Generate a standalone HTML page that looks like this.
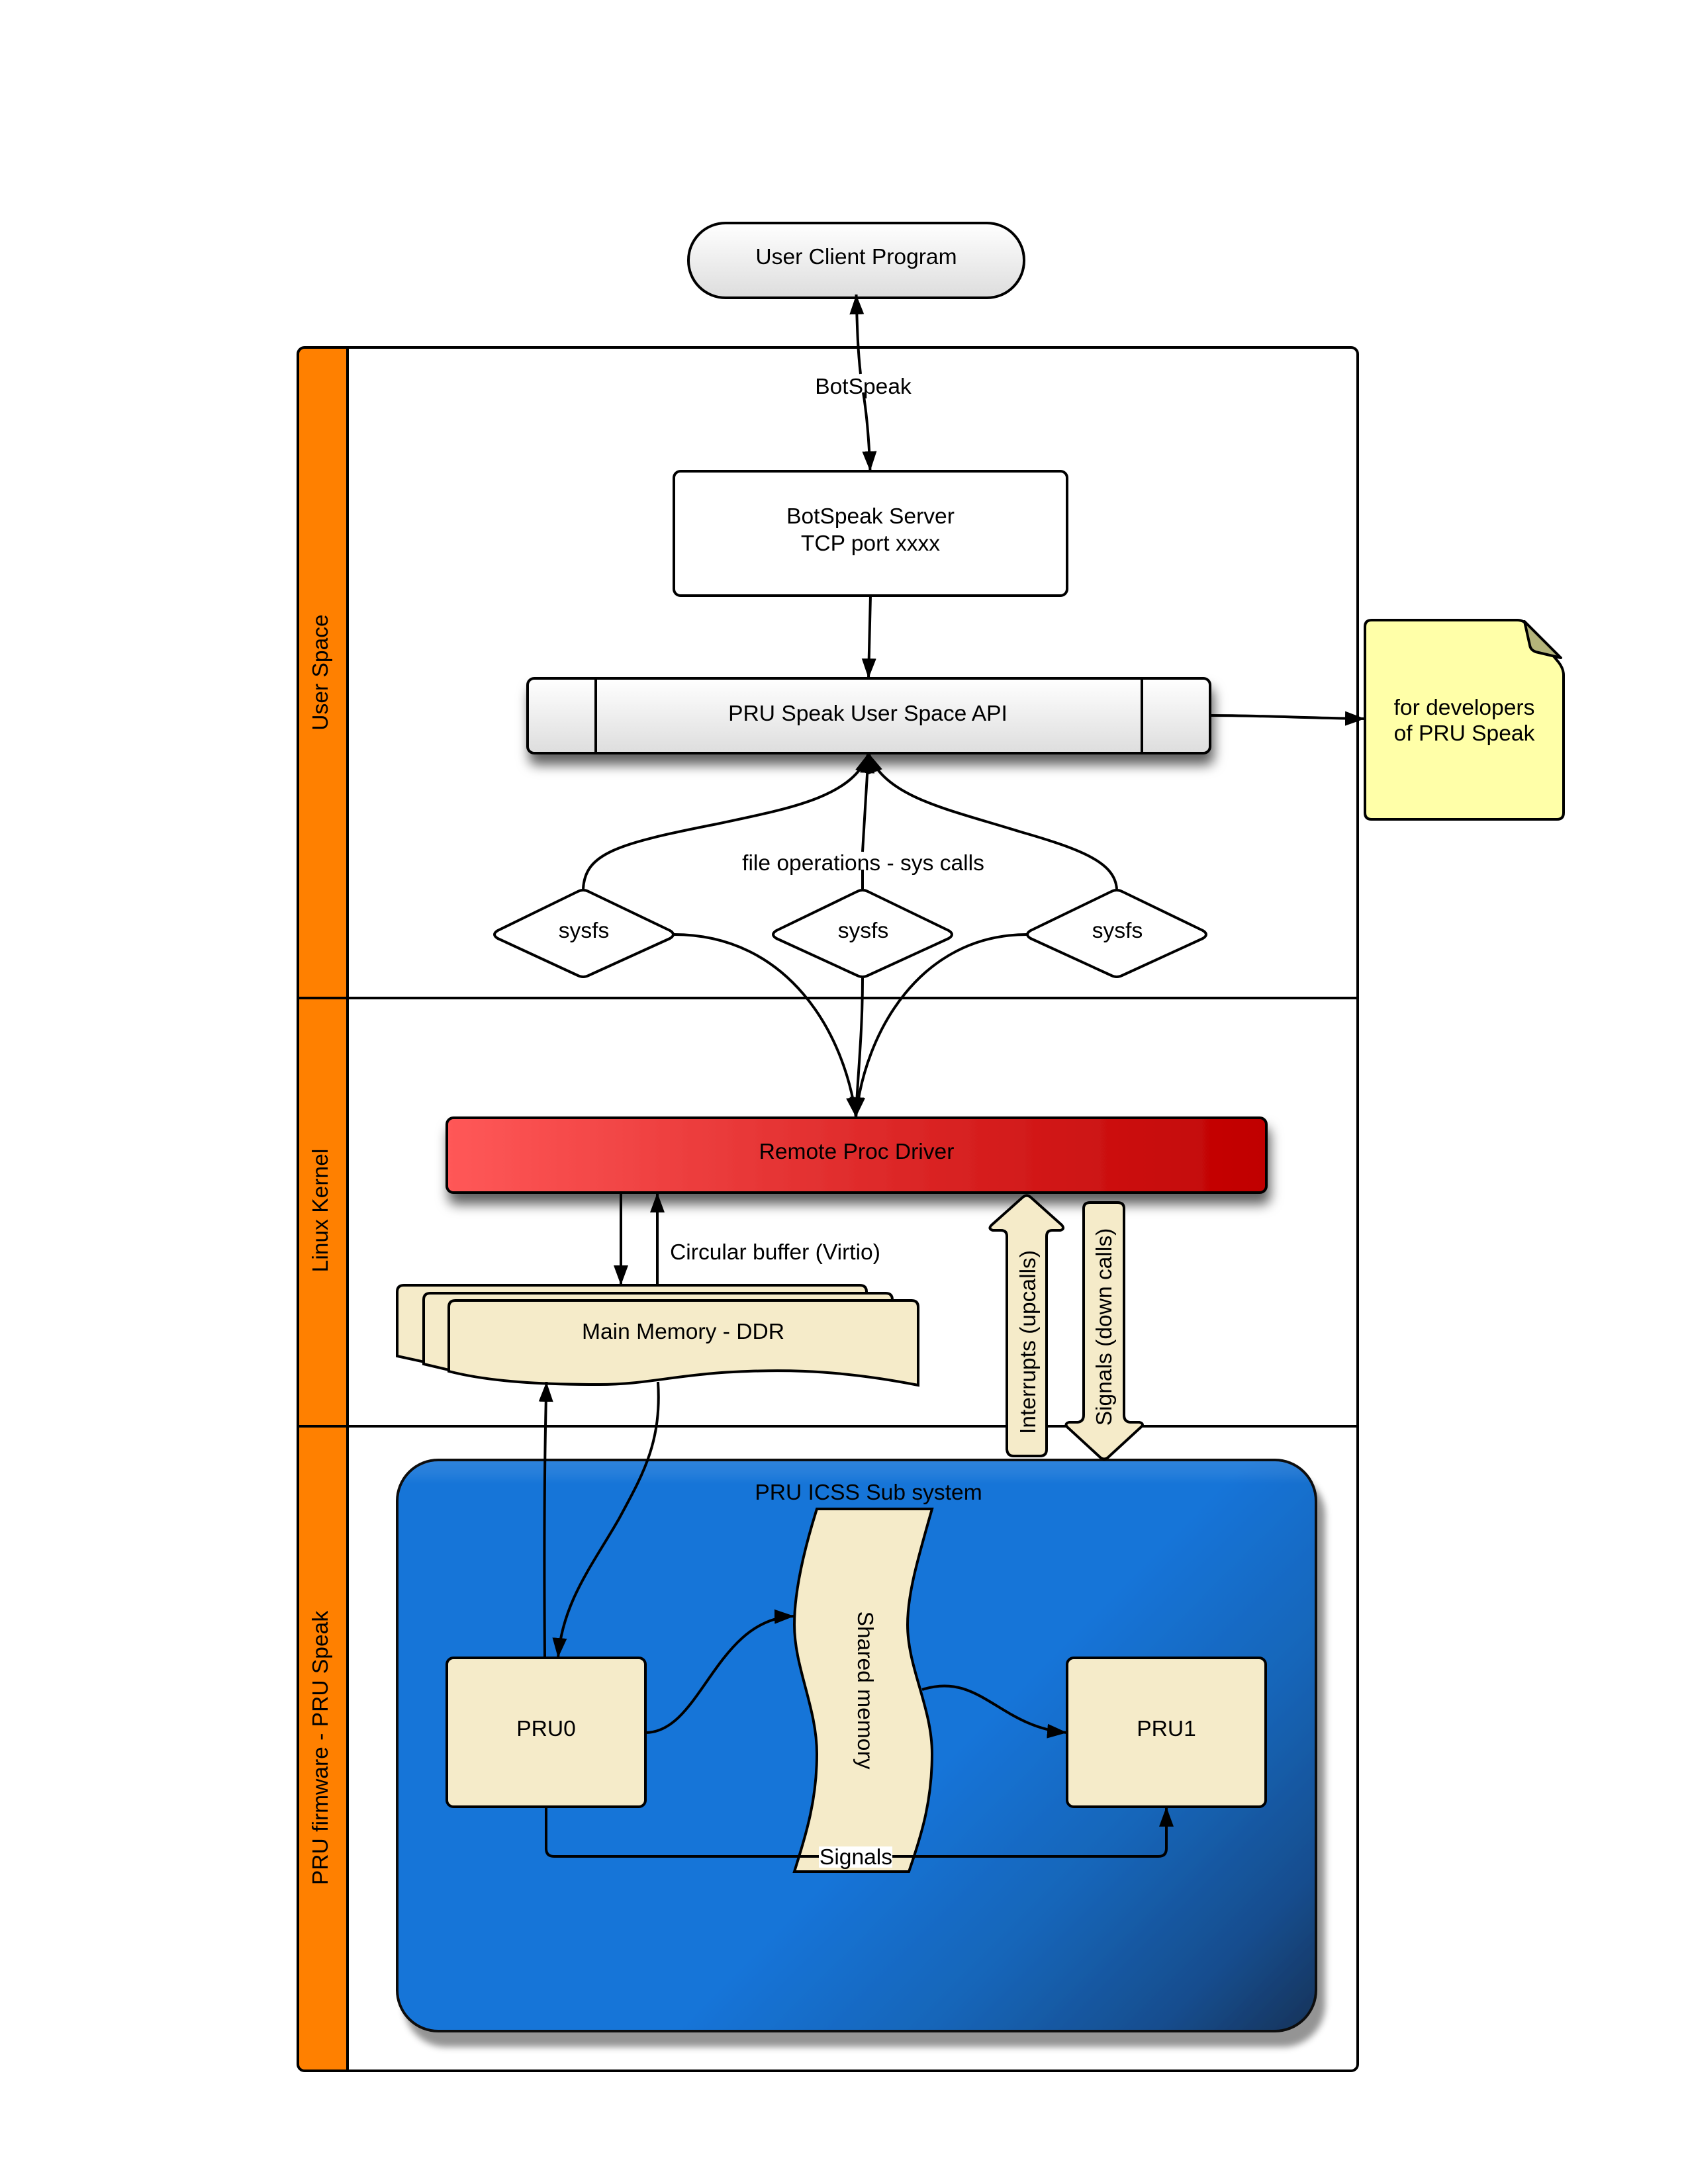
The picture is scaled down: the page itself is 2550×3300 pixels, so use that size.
<!DOCTYPE html>
<html>
<head>
<meta charset="utf-8">
<style>
html,body{margin:0;padding:0;background:#fff;}
svg{display:block;}
text{font-family:"Liberation Sans",sans-serif;font-size:33.6px;fill:#000;text-anchor:middle;}
</style>
</head>
<body>
<svg xmlns="http://www.w3.org/2000/svg" width="2550" height="3300" viewBox="0 0 2550 3300">
<defs>
<linearGradient id="gray" x1="0" y1="0" x2="0" y2="1"><stop offset="0" stop-color="#ffffff"/><stop offset="1" stop-color="#dddddd"/></linearGradient>
<linearGradient id="red" x1="0" y1="0" x2="1" y2="0"><stop offset="0" stop-color="#ff5858"/><stop offset="1" stop-color="#c00000"/></linearGradient>
<linearGradient id="blue" gradientUnits="userSpaceOnUse" x1="1937" y1="2155" x2="2419" y2="2637"><stop offset="0" stop-color="#1874d8"/><stop offset=".4" stop-color="#1665b8"/><stop offset=".75" stop-color="#154d8e"/><stop offset="1" stop-color="#123258"/></linearGradient>
<linearGradient id="top" x1="0" y1="0" x2="0" y2="1"><stop offset="0" stop-color="#fff" stop-opacity=".1"/><stop offset=".02" stop-color="#fff" stop-opacity=".07"/><stop offset=".04" stop-color="#fff" stop-opacity="0"/></linearGradient>
<filter id="sh" x="-10%" y="-50%" width="120%" height="220%"><feDropShadow dx="4" dy="16" stdDeviation="9" flood-color="#000" flood-opacity=".62"/></filter>
<filter id="sh2" x="-5%" y="-5%" width="110%" height="110%"><feDropShadow dx="12" dy="22" stdDeviation="5" flood-color="#000" flood-opacity=".42"/></filter>
<marker id="a" markerUnits="userSpaceOnUse" markerWidth="34" markerHeight="26" refX="30" refY="12" orient="auto"><path d="M0 1L30 12L0 23Z" fill="#000"/></marker>
</defs>

<!-- swimlanes -->
<rect x="450" y="525" width="1601" height="2604" rx="10" fill="#fff"/>
<path d="M450 1508V535a10 10 0 0 1 10-10H525V1508ZM450 1508H525V2155H450ZM450 2155H525V3129H460a10 10 0 0 1-10-10Z" fill="#ff8000"/>
<g fill="none" stroke="#000" stroke-width="4">
<rect x="450" y="525" width="1601" height="2604" rx="10"/>
<path d="M525 525V3129M450 1508H2051M450 2155H2051"/>
</g>
<text transform="translate(495 1016) rotate(-90)">User Space</text>
<text transform="translate(495 1829) rotate(-90)">Linux Kernel</text>
<text transform="translate(495 2641) rotate(-90)">PRU firmware - PRU Speak</text>

<!-- pill -->
<rect x="1040" y="337" width="507" height="113" rx="56" fill="url(#gray)" stroke="#000" stroke-width="4"/>
<text x="1293.5" y="399">User Client Program</text>

<!-- server -->
<rect x="1018" y="712" width="594" height="188" rx="10" fill="#fff" stroke="#000" stroke-width="4"/>
<text x="1315" y="791">BotSpeak Server</text>
<text x="1315" y="832">TCP port xxxx</text>

<!-- API -->
<rect x="797" y="1025" width="1031" height="113" rx="10" fill="url(#gray)" stroke="#000" stroke-width="4" filter="url(#sh)"/>
<path d="M900 1025V1138M1725 1025V1138" stroke="#000" stroke-width="4"/>
<text x="1311" y="1089">PRU Speak User Space API</text>

<!-- note -->
<path d="M2072 937H2292Q2302 937 2308 945L2354 1000Q2362 1010 2362 1020V1228Q2362 1238 2352 1238H2072Q2062 1238 2062 1228V947Q2062 937 2072 937Z" fill="#ffffa8" stroke="#000" stroke-width="4"/>
<path d="M2303 939L2358 994L2320 985Q2312 982 2311 975Z" fill="#b4b47a" stroke="#000" stroke-width="4" stroke-linejoin="round"/>
<text x="2212" y="1080">for developers</text>
<text x="2212" y="1119">of PRU Speak</text>

<!-- diamonds -->
<g fill="#fff" stroke="#000" stroke-width="4" stroke-linejoin="round">
<path d="M873 1347Q881 1343 889 1347L1012 1406Q1022 1412 1012 1418L889 1474Q881 1478 873 1474L752 1418Q742 1412 752 1406Z"/>
<path d="M1295 1347Q1303 1343 1311 1347L1433 1406Q1443 1412 1433 1418L1311 1474Q1303 1478 1295 1474L1173 1418Q1163 1412 1173 1406Z"/>
<path d="M1679 1347Q1687 1343 1695 1347L1817 1406Q1827 1412 1817 1418L1695 1474Q1687 1478 1679 1474L1557 1418Q1547 1412 1557 1406Z"/>
</g>
<text x="882" y="1417">sysfs</text>
<text x="1304" y="1417">sysfs</text>
<text x="1688" y="1417">sysfs</text>

<!-- driver -->
<rect x="675" y="1689" width="1238" height="113" rx="10" fill="url(#red)" stroke="#000" stroke-width="4" filter="url(#sh)"/>
<text x="1294" y="1751">Remote Proc Driver</text>

<!-- memory stack -->
<g fill="#f5ebc9" stroke="#000" stroke-width="4">
<path d="M600 2049V1952Q600 1942 610 1942H1299Q1309 1942 1309 1952V2000L678 2066Z"/>
<path d="M640 2061V1964Q640 1954 650 1954H1338Q1348 1954 1348 1964V2000L678 2070Z"/>
<path d="M678 2072V1975Q678 1965 688 1965H1377Q1387 1965 1387 1975V2093C1250 2066 1160 2070 1090 2074C1010 2080 970 2092 905 2092C820 2092 740 2088 678 2072Z"/>
</g>
<text x="1032" y="2023">Main Memory - DDR</text>

<!-- blue box -->
<rect x="600" y="2206" width="1388" height="863" rx="62" fill="url(#blue)" stroke="#111" stroke-width="4" filter="url(#sh2)"/>
<rect x="602" y="2208" width="1384" height="859" rx="60" fill="url(#top)"/>
<text x="1312" y="2266">PRU ICSS Sub system</text>

<!-- block arrows -->
<path d="M1521 2190V1868Q1521 1859 1512 1859H1500Q1492 1857 1498 1851L1545 1809Q1551 1804 1557 1809L1604 1851Q1609 1857 1602 1859H1590Q1581 1859 1581 1868V2190Q1581 2200 1571 2200H1531Q1522 2200 1521 2190Z" fill="#f5ebc9" stroke="#000" stroke-width="4" stroke-linejoin="round"/>
<path d="M1637 1826Q1637 1817 1647 1817H1688Q1698 1817 1698 1826V2138Q1698 2148 1707 2149H1721Q1729 2151 1724 2156L1674 2202Q1668 2207 1662 2202L1612 2156Q1608 2151 1615 2149H1628Q1637 2148 1637 2138Z" fill="#f5ebc9" stroke="#000" stroke-width="4" stroke-linejoin="round"/>
<text transform="translate(1552 2028) rotate(-90)" dy="12">Interrupts (upcalls)</text>
<text transform="translate(1667 2005) rotate(-90)" dy="12">Signals (down calls)</text>

<!-- shared memory -->
<path d="M1234 2280H1408C1385 2360 1371 2410 1371 2455C1371 2520 1408 2580 1408 2650C1408 2720 1393 2770 1373 2828H1200C1218 2770 1234 2720 1234 2650C1234 2580 1200 2520 1200 2455C1200 2410 1212 2350 1234 2280Z" fill="#f5ebc9" stroke="#000" stroke-width="4"/>
<text transform="translate(1308 2554) rotate(90)" dy="-12" y="24">Shared memory</text>

<!-- PRU boxes -->
<rect x="675" y="2505" width="300" height="225" rx="10" fill="#f5ebc9" stroke="#000" stroke-width="4"/>
<rect x="1612" y="2505" width="300" height="225" rx="10" fill="#f5ebc9" stroke="#000" stroke-width="4"/>
<text x="825" y="2623">PRU0</text>
<text x="1762" y="2623">PRU1</text>

<!-- connectors -->
<g fill="none" stroke="#000" stroke-width="4">
<path d="M1300 565C1296 530 1295 500 1293.5 445" marker-end="url(#a)"/>
<path d="M1304 593C1310 630 1313 670 1314.5 712" marker-end="url(#a)"/>
<path d="M1315 900L1312 1025" marker-end="url(#a)"/>
<path d="M1828 1081C1900 1081 1980 1085 2062 1086" marker-end="url(#a)"/>
<path d="M881 1343C884 1290 930 1275 1083 1245C1190 1222 1290 1205 1312 1138" marker-end="url(#a)"/>
<path d="M1687 1343C1684 1305 1640 1285 1542 1257C1430 1222 1337 1205 1312 1138" marker-end="url(#a)"/>
<path d="M1303 1287L1312 1138" marker-end="url(#a)"/>
<path d="M1303 1343V1314"/>
<path d="M1018 1412C1190 1412 1276 1560 1293 1688" marker-end="url(#a)"/>
<path d="M1552 1412C1390 1412 1306 1560 1293 1688" marker-end="url(#a)"/>
<path d="M1303 1478C1303 1560 1296 1620 1293 1688" marker-end="url(#a)"/>
<path d="M938 1802V1942" marker-end="url(#a)"/>
<path d="M993 1942V1802" marker-end="url(#a)"/>
<path d="M823 2505C822 2380 822 2220 825.5 2088" marker-end="url(#a)"/>
<path d="M994 2088C1000 2180 970 2230 935 2295C895 2365 850 2420 843 2505" marker-end="url(#a)"/>
<path d="M975 2618C1060 2618 1080 2445 1200 2442" marker-end="url(#a)"/>
<path d="M1393 2553C1480 2525 1510 2610 1612 2618" marker-end="url(#a)"/>
<path d="M825 2730V2793Q825 2805 837 2805H1750Q1762 2805 1762 2793V2730" marker-end="url(#a)"/>
</g>

<!-- connector labels -->
<text x="1304" y="595">BotSpeak</text>
<text x="1304" y="1315">file operations - sys calls</text>
<text x="1171" y="1903">Circular buffer (Virtio)</text>
<rect x="1237" y="2790" width="111" height="32" fill="#fff"/>
<text x="1293" y="2817">Signals</text>
</svg>
</body>
</html>
